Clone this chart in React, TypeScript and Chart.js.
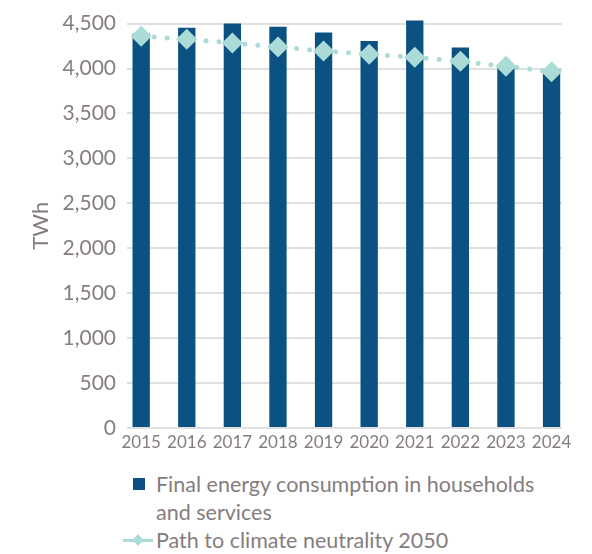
import React, { useEffect, useRef } from "react";
import { Chart, registerables } from "chart.js";

Chart.register(...registerables);

const years = ["2015", "2016", "2017", "2018", "2019", "2020", "2021", "2022", "2023", "2024"];
const consumption = [4390, 4455, 4500, 4465, 4400, 4305, 4535, 4235, 4010, 3995];
const pathToNeutrality = [4360, 4325, 4285, 4240, 4195, 4160, 4125, 4080, 4025, 3965];
const yTicks = [0, 500, 1000, 1500, 2000, 2500, 3000, 3500, 4000, 4500];

const barLabel = "Final energy consumption in households and services";
const lineLabel = "Path to climate neutrality 2050";

const BAR = "#0B5283";
const TEAL = "#AADBD7";
const TEXT = "#857d7d";
const GRID = "#e0e0e0";
const FONT = "Lato, 'Open Sans', sans-serif";

export default function App() {
  const ref = useRef<HTMLCanvasElement | null>(null);

  useEffect(() => {
    if (!ref.current) return;
    const chart = new Chart(ref.current, {
      type: "bar",
      data: {
        datasets: [
          {
            type: "line",
            label: lineLabel,
            data: pathToNeutrality.map((v, i) => ({ x: i, y: v })),
            borderColor: TEAL,
            backgroundColor: TEAL,
            borderWidth: 5,
            borderDash: [0, 13],
            borderCapStyle: "round",
            pointStyle: "rectRot",
            pointRadius: 10.5,
            pointBackgroundColor: TEAL,
            pointBorderWidth: 0,
            order: 0,
            clip: false,
          } as any,
          {
            type: "bar",
            label: barLabel,
            data: consumption.map((v, i) => ({ x: i, y: v })),
            backgroundColor: BAR,
            barPercentage: 0.38,
            categoryPercentage: 1,
            order: 1,
            clip: false,
          } as any,
        ],
      },
      options: {
        animation: false,
        responsive: false,
        maintainAspectRatio: false,
        layout: { padding: { top: 17, left: 20, right: 30, bottom: 0 } },
        plugins: { legend: { display: false }, tooltip: { enabled: false } },
        scales: {
          x: {
            type: "linear",
            offset: false,
            min: -0.311,
            max: 9.229,
            grid: { display: false, drawTicks: false, offset: false },
            border: { display: false },
            afterBuildTicks: (scale: any) => {
              scale.ticks = years.map((_, i) => ({ value: i }));
            },
            afterFit: (scale: any) => {
              scale.height = 34;
            },
            ticks: {
              autoSkip: false,
              maxRotation: 0,
              padding: 4,
              color: TEXT,
              font: { family: FONT, size: 17 },
              callback: (v: any) => years[v as number] ?? "",
            },
          },
          y: {
            min: 0,
            max: 4500,
            afterBuildTicks: (scale: any) => {
              scale.ticks = yTicks.map((v) => ({ value: v }));
            },
            afterFit: (scale: any) => {
              scale.width = 107;
            },
            grid: { color: GRID, lineWidth: 2, drawTicks: false },
            border: { display: false },
            title: {
              display: true,
              text: "TWh",
              color: TEXT,
              font: { family: FONT, size: 22 },
              padding: { top: 8, bottom: 0 },
            },
            ticks: {
              padding: 11,
              color: TEXT,
              font: { family: FONT, size: 21 },
              callback: (v: any) => Number(v).toLocaleString("en-US"),
            },
          },
        },
      },
    });
    return () => chart.destroy();
  }, []);

  const textStyle: React.CSSProperties = {
    fontFamily: FONT,
    fontSize: 21.5,
    color: TEXT,
    lineHeight: "28px",
  };

  return (
    <div style={{ position: "absolute", left: 0, top: 0, width: 592, height: 554, background: "#fff", overflow: "hidden" }}>
      <canvas ref={ref} width={592} height={462} style={{ display: "block", width: 592, height: 462 }} />
      <div style={{ marginTop: 8, marginLeft: 123 }}>
        <div style={{ display: "flex", alignItems: "flex-start" }}>
          <div style={{ width: 30, height: 28, display: "flex", alignItems: "center", justifyContent: "center", flex: "0 0 auto" }}>
            <div style={{ width: 12, height: 12, background: BAR, marginLeft: 1 }} />
          </div>
          <div style={{ ...textStyle, marginLeft: 3, width: 395 }}>{barLabel}</div>
        </div>
        <div style={{ display: "flex", alignItems: "flex-start" }}>
          <div style={{ width: 30, height: 28, position: "relative", flex: "0 0 auto" }}>
            <div style={{ position: "absolute", left: 0, right: 0, top: 13, height: 3, background: TEAL }} />
            <div style={{ position: "absolute", left: 11, top: 10, width: 8, height: 8, background: TEAL, transform: "rotate(45deg)" }} />
          </div>
          <div style={{ ...textStyle, marginLeft: 3 }}>{lineLabel}</div>
        </div>
      </div>
    </div>
  );
}
